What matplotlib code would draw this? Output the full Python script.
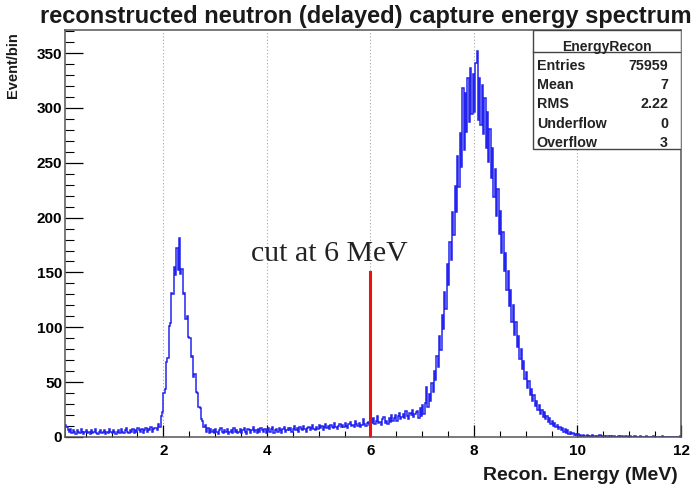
import matplotlib.pyplot as plt
import numpy as np
from matplotlib.patches import Rectangle
from matplotlib.ticker import MultipleLocator

plt.rcParams['font.family'] = ['Liberation Sans', 'DejaVu Sans']

# histogram binning (MeV)
E_MIN, E_MAX = 0.1, 12.0

# events per bin, split by energy region
counts_low = [11, 9, 6, 5, 7, 4, 6, 5, 3, 6, 5, 4, 7, 5, 3, 5, 6, 4, 5, 3,
              6, 4, 5, 7, 4, 3, 5, 6, 4, 5, 6, 3, 5, 4, 7, 5, 4, 6, 5, 3,
              5, 6, 4, 7, 5, 4, 6, 8, 5, 4, 6, 5, 7, 4, 6, 5, 8, 6, 5, 7,
              4, 6, 8, 5, 7, 6, 9, 5, 7, 8]  # 0.1 - 1.85
counts_h_peak = [8, 6, 12, 9, 19, 23, 40, 44, 68, 72, 101, 104, 131, 130, 155,
                 148, 172, 152, 181, 149, 153, 130, 131, 108, 110, 91, 90, 73,
                 74, 55, 57, 41, 40, 27, 26, 16, 15, 9, 11, 5, 8, 4, 7, 5]  # 1.85 - 2.95
counts_mid = [6, 4, 7, 5, 3, 6, 8, 5, 4, 6, 5, 7, 3, 5, 6, 4, 8, 5, 6, 4,
              5, 7, 4, 6, 8, 5, 3, 7, 6, 4, 6, 9, 5, 6, 4, 7, 5, 8, 6, 5,
              7, 4, 6, 8, 5, 7, 9, 4, 6, 7, 5, 8, 6, 4, 7, 9, 5, 6, 8, 6,
              8, 5, 7, 10, 6, 8, 5, 9, 7, 6, 10, 7, 5, 8, 9, 6, 8, 11, 7, 6,
              9, 7, 11, 8, 10, 6, 9, 12, 8, 10, 7, 11, 9, 8, 13, 9, 7, 10, 12, 9,
              11, 9, 13, 10, 8, 12, 14, 10, 11, 9, 15, 12, 10, 13, 9, 11, 16, 12, 10, 13,
              14, 11, 16, 13, 17, 12, 15, 19, 13, 14, 11, 16, 18, 13, 15, 12, 17, 14, 20, 15,
              17, 20, 15, 19, 22, 16, 18, 21, 17, 24, 19, 16, 22, 20, 25, 18, 21, 23]  # 2.95 - 6.9
counts_gd_peak = [24, 17, 26, 19, 29, 21, 31, 46, 27, 39, 33, 49, 41, 60, 52, 74,
                  64, 92, 79, 111, 98, 132, 117, 158, 139, 178, 161, 205, 184, 229,
                  205, 256, 228, 277, 246, 318, 262, 314, 278, 327, 287, 336, 294, 331,
                  296, 341, 352, 289, 327, 284, 321, 276, 309, 263, 296, 251, 281, 236,
                  263, 219, 244, 201, 226, 185, 206, 168, 187, 151, 168, 134, 151, 119,
                  134, 105, 120, 93, 105, 82, 92, 71, 80, 62, 69, 53, 59, 45, 51, 38,
                  44, 33, 38, 28, 33, 25, 29, 21, 25, 18, 23, 16, 19, 14, 17, 12, 15,
                  10, 13, 9, 11, 7, 9, 6, 8, 5, 7, 4, 6, 3, 5, 3, 4, 2, 3, 2, 3, 1, 2, 1]  # 6.9 - 10.1
counts_tail = [2, 1, 1, 2, 1, 0, 1, 2, 1, 1, 0, 1, 1, 2, 0, 1, 1, 0, 1, 1,
               0, 1, 0, 1, 1, 0, 0, 1, 0, 1, 1, 0, 0, 1, 0, 0, 1, 0, 0, 0,
               1, 0, 0, 0, 1, 0, 0, 0, 0, 1, 0, 0, 0, 0, 1, 0, 0, 0, 0, 0,
               0, 1, 0, 0, 0, 0, 0, 0, 0, 0, 0, 0, 0, 0, 0, 1]  # 10.1 - 12

stats_labels = ["Entries", "Mean", "RMS", "Underflow", "Overflow"]
stats_values = ["75959", "7", "2.22", "0", "3"]

cut_energy = 6.0
cut_top = 150

counts = np.array(counts_low + counts_h_peak + counts_mid + counts_gd_peak + counts_tail)
edges = np.linspace(E_MIN, E_MAX, len(counts) + 1)

fig = plt.figure(figsize=(6.92, 4.93), dpi=100)
ax = fig.add_axes([65 / 692, 56 / 493, 616 / 692, 407 / 493])

# dotted grid at the major x ticks
for xg in [2, 4, 6, 8, 10]:
    ax.axvline(xg, color='#a8a8a8', ls=(0, (1, 2)), lw=0.8, zorder=0)

ax.stairs(counts, edges, color='#2424ee', lw=1.1, zorder=2)

# cut marker
ax.plot([cut_energy, cut_energy], [0, cut_top], color='#ee1111', lw=2.2, zorder=3)
ax.text(5.2, 167, "cut at 6 MeV", family='Liberation Serif', fontsize=21.5,
        color='#222222', ha='center', va='center')

ax.set_xlim(E_MIN, E_MAX)
ax.set_ylim(0, 371)
ax.set_xticks([2, 4, 6, 8, 10, 12])
ax.set_yticks(np.arange(0, 351, 50))
ax.xaxis.set_minor_locator(MultipleLocator(0.5))
ax.yaxis.set_minor_locator(MultipleLocator(10))
ax.tick_params(axis='x', which='major', direction='in', length=8.8, width=0.9, pad=5, labelsize=11)
ax.tick_params(axis='x', which='minor', direction='in', length=4.4, width=0.8)
ax.tick_params(axis='y', which='major', direction='in', length=13, width=0.9, pad=2, labelsize=11)
ax.tick_params(axis='y', which='minor', direction='in', length=6.5, width=0.8)
for lab in ax.get_xticklabels() + ax.get_yticklabels():
    lab.set_fontweight('bold')
for sp in ax.spines.values():
    sp.set_color('#555555')
    sp.set_linewidth(1.1)

fig.text(40 / 692, 1 - 16 / 493, "reconstructed neutron (delayed) capture energy spectrum",
         fontsize=17, fontweight='bold', ha='left', va='center', color='#1a1a1a')
fig.text(678 / 692, 1 - 476 / 493, "Recon. Energy (MeV)", fontsize=14,
         fontweight='bold', ha='right', va='center', color='#1a1a1a')
fig.text(13 / 692, 1 - 32 / 493, "Event/bin", fontsize=10.5, fontweight='bold',
         rotation=90, ha='center', va='top', color='#1a1a1a')

# statistics box
bx0, by0 = 0.760, 0.7076
ax.add_patch(Rectangle((bx0, by0), 1 - bx0, 1 - by0, transform=ax.transAxes,
                       facecolor='white', edgecolor='#444444', lw=1.0, zorder=5))
ax.plot([bx0, 1.0], [0.946, 0.946], transform=ax.transAxes, color='#444444', lw=1.0, zorder=6)
ax.text((bx0 + 1) / 2, 0.958, "EnergyRecon", transform=ax.transAxes, fontsize=10,
        fontweight='bold', ha='center', va='center', zorder=7, color='#222222')
rows_y = [0.9115, 0.865, 0.818, 0.769, 0.722]
for name, val, ry in zip(stats_labels, stats_values, rows_y):
    ax.text(0.766, ry, name, transform=ax.transAxes, fontsize=10.3, fontweight='bold',
            ha='left', va='center', zorder=7, color='#222222')
    ax.text(0.979, ry, val, transform=ax.transAxes, fontsize=10.3, fontweight='bold',
            ha='right', va='center', zorder=7, color='#222222')

fig.savefig('out.png', dpi=100)
